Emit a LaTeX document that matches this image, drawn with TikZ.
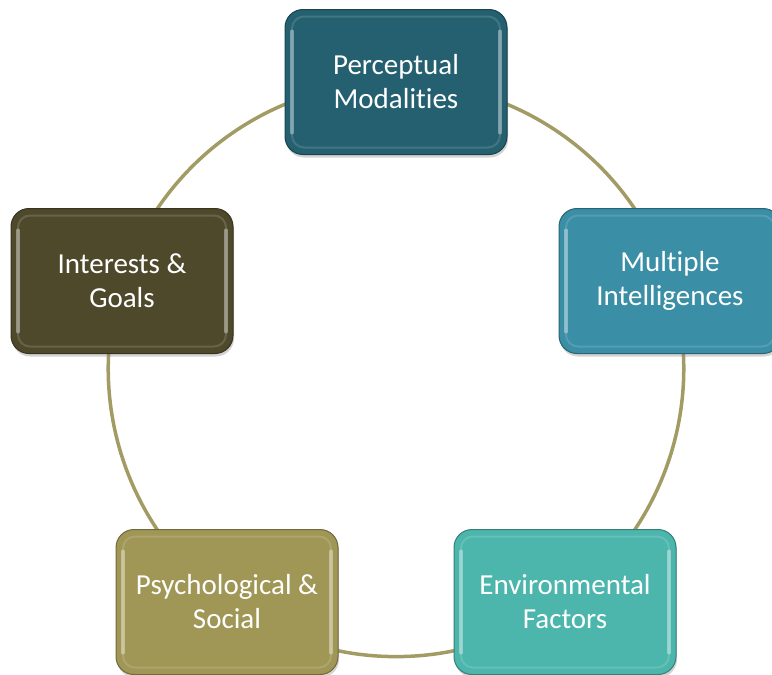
\documentclass[tikz,border=0pt]{standalone}
\usepackage{fontspec}
\setmainfont[Ligatures=CommonOff]{Carlito}
\usetikzlibrary{shadows,backgrounds}

\definecolor{perccol}{RGB}{36,96,111}
\definecolor{multcol}{RGB}{58,142,166}
\definecolor{envcol}{RGB}{76,182,172}
\definecolor{psycol}{RGB}{160,150,86}
\definecolor{intcol}{RGB}{79,73,44}
\definecolor{ringcol}{RGB}{162,156,100}

\tikzset{
	stage/.style={rectangle, rounded corners=18pt,
		minimum width=222pt, minimum height=145pt,
		fill=#1, draw=#1!70!black, line width=1pt,
		text=white, align=center, font=\fontsize{29}{34}\selectfont,
		drop shadow={shadow xshift=1pt, shadow yshift=-3pt, opacity=0.35},
		path picture={
			\draw[#1!45!white, line width=2pt, rounded corners=12pt, opacity=0.25]
				([shift={(7pt,-7pt)}]path picture bounding box.north west) rectangle
				([shift={(-7pt,7pt)}]path picture bounding box.south east);
			\draw[#1!35!white, line width=4pt, line cap=round, opacity=0.6]
				([shift={(7pt,-22pt)}]path picture bounding box.north west) --
				([shift={(7pt,22pt)}]path picture bounding box.south west);
			\draw[#1!35!white, line width=4pt, line cap=round, opacity=0.6]
				([shift={(-7pt,-22pt)}]path picture bounding box.north east) --
				([shift={(-7pt,22pt)}]path picture bounding box.south east);
		}},
	ring/.style={draw=ringcol, line width=3.5pt}
}

\begin{document}
\begin{tikzpicture}[x=1pt, y=-1pt]
	\useasboundingbox (0,0) rectangle (772,675);

	% five stages round the ring
	\node[stage=perccol] (perc) at (396,  82) {Perceptual\\Modalities};
	\node[stage=multcol] (mult) at (670, 281) {Multiple\\Intelligences};
	\node[stage=envcol]  (env)  at (565, 602) {Environmental\\Factors};
	\node[stage=psycol]  (psy)  at (227, 602) {Psychological \&\\Social};
	\node[stage=intcol]  (int)  at (122, 281) {Interests \&\\Goals};

	% the ring behind them
	\begin{pgfonlayer}{background}
		\draw[ring] (perc.center) to[bend left=36, looseness=0.94] (mult.center);
		\draw[ring] (mult.center) to[bend left=36, looseness=0.94] (env.center);
		\draw[ring] (env.center)  to[bend left=36, looseness=0.94] (psy.center);
		\draw[ring] (psy.center)  to[bend left=36, looseness=0.94] (int.center);
		\draw[ring] (int.center)  to[bend left=36, looseness=0.94] (perc.center);
	\end{pgfonlayer}
\end{tikzpicture}
\end{document}
